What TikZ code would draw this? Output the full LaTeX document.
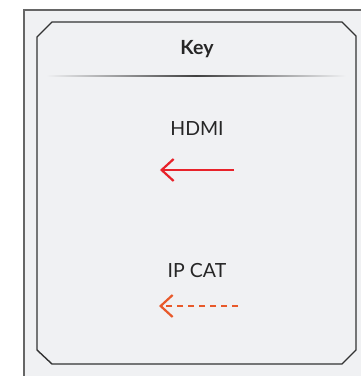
\documentclass[tikz,border=0pt]{standalone}
\usepackage{fontspec}
\setmainfont{Lato}
\usetikzlibrary{arrows.meta}
\definecolor{bgfill}{HTML}{F0F1F3}
\definecolor{hdmired}{HTML}{E8222A}
\definecolor{iporange}{HTML}{E8592A}
\tikzset{
  px/.style={x=1pt,y=-1pt},
  outerframe/.style={draw=black!60,line width=1.4pt,fill=bgfill},
  innerframe/.style={draw=black!80,line width=1.4pt},
  label/.style={font=\fontsize{19.5}{22}\selectfont,text=black!85,inner sep=0pt},
  chev/.tip={Straight Barb[length=12pt,width=22pt,line width=2.2pt]},
  hdmiarrow/.style={draw=hdmired,line width=2.2pt,-{chev}},
  iparrow/.style={draw=iporange,line width=2.6pt,dash pattern=on 6pt off 5pt,-{chev[sep=2pt]}}
}
\begin{document}
\begin{tikzpicture}[px]
\useasboundingbox (0,0) rectangle (360,376);
\fill[white] (0,0) rectangle (360,376);
\path[outerframe] (24,10) rectangle (372,390);
\draw[innerframe] (52,22) -- (342,22) -- (356,36) -- (356,350) -- (342,364) -- (52,364) -- (37,350) -- (37,37) -- cycle;
\node[font=\bfseries\fontsize{19.5}{22}\selectfont,text=black!85] (key) at (197,49) {Key};
\shade[left color=bgfill,right color=bgfill,middle color=black!75] (46,75.6) rectangle (346,76.6);
\node[label] (hdmi) at (197,129) {HDMI};
\coordinate (h1) at (234,170);
\coordinate (h2) at (160,170);
\draw[hdmiarrow] (h1) -- (h2);
\node[label] (ipcat) at (197,271) {IP CAT};
\coordinate (i1) at (238,306);
\coordinate (i2) at (157,306);
\draw[iparrow] (i1) -- (i2);
\end{tikzpicture}
\end{document}
